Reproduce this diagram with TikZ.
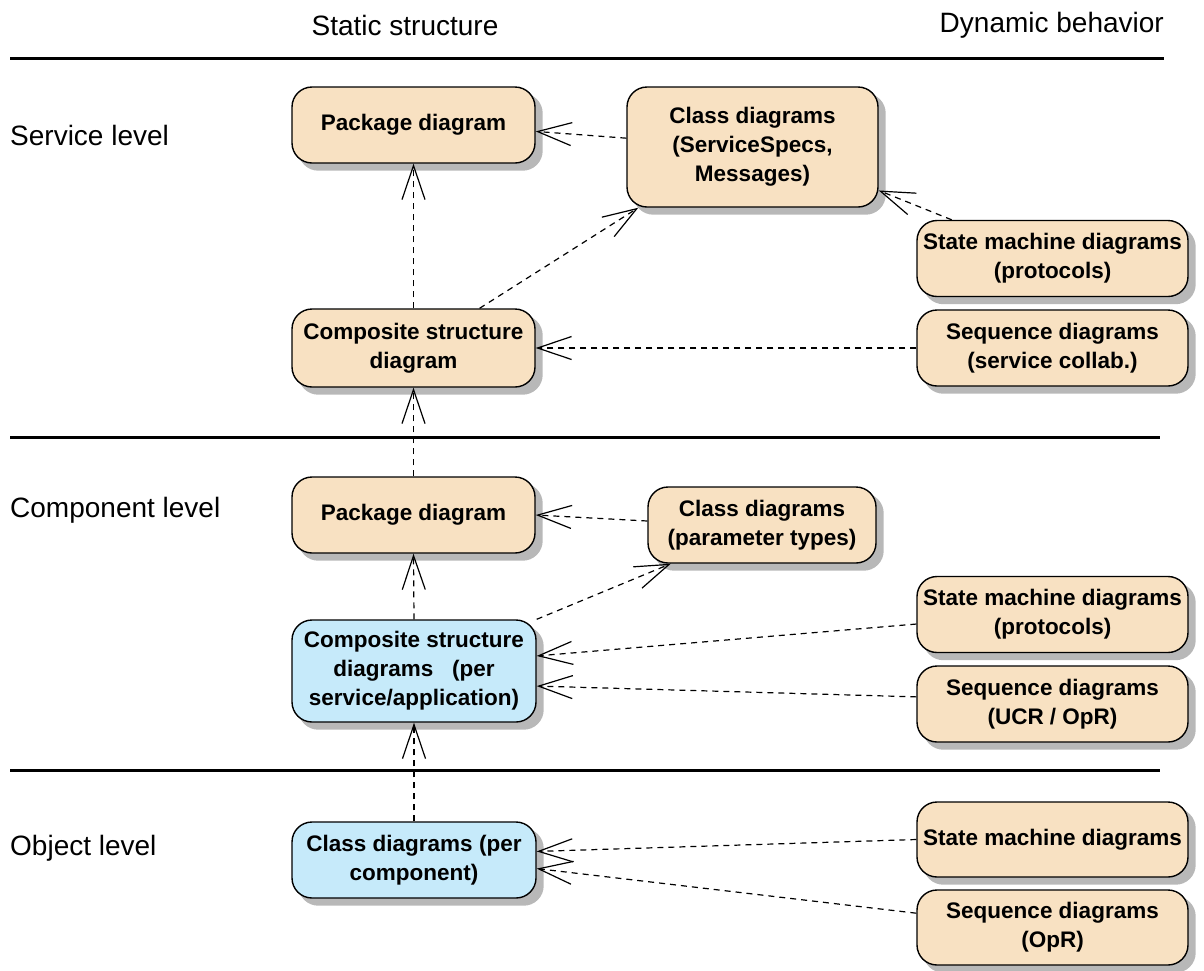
\documentclass[tikz,border=0pt]{standalone}
\usepackage{fontspec}
\setmainfont{Liberation Sans}
\usepackage{xcolor}
\usepackage{tikz}
\usetikzlibrary{arrows.meta,backgrounds,calc}

\definecolor{boxtan}{HTML}{F8E1C2}
\definecolor{boxblue}{HTML}{C6EAFA}
\definecolor{boxshade}{HTML}{B8B8B8}

\begin{document}
\begin{tikzpicture}[x=1pt,y=-1pt,
  diag/.style={draw=black, line width=1.4pt, rounded corners=20pt, fill=boxtan,
    align=center, inner sep=0pt, minimum height=76pt,
    font=\fontsize{22.5}{29}\selectfont\bfseries},
  inst/.style={diag, fill=boxblue},
  head/.style={font=\fontsize{28}{32}\selectfont, inner sep=0pt},
  dep/.style={line width=1.2pt, dash pattern=on 6pt off 5pt,
    -{Straight Barb[length=34pt,width=23pt,line width=1.2pt]}}]
\useasboundingbox (0,0) rectangle (1204,970);

\node[head] (hstatic) at (405,25) {Static structure};
\node[head, anchor=east] (hdynamic) at (1164,25) {Dynamic behavior};
\node[head, anchor=west] (lservice) at (10,135) {Service level};
\node[head, anchor=west] (lcomponent) at (10,510) {Component level};
\node[head, anchor=west] (lobject) at (10,848) {Object level};

\draw[line width=3pt] (10,58) -- (1164,58);
\draw[line width=3pt] (10,437) -- (1160,437);
\draw[line width=3pt] (10,770) -- (1160,770);

\node[diag, minimum width=243pt] (psvc) at (413.5,125) {Package diagram};
\node[diag, minimum width=251pt, minimum height=120pt] (csvc) at (752.5,147) {Class diagrams\\(ServiceSpecs,\\Messages)};
\node[diag, minimum width=271pt] (ssvc) at (1052.5,258.5) {State machine diagrams\\(protocols)};
\node[diag, minimum width=271pt] (qsvc) at (1052.5,348) {Sequence diagrams\\(service collab.)};
\node[diag, minimum width=243pt, minimum height=78pt] (compsvc) at (413.5,348) {Composite structure\\diagram};

\node[diag, minimum width=243pt] (pcomp) at (413.5,515) {Package diagram};
\node[diag, minimum width=228pt] (cparam) at (762,525) {Class diagrams\\(parameter types)};
\node[diag, minimum width=271pt] (scomp) at (1052.5,614.5) {State machine diagrams\\(protocols)};
\node[diag, minimum width=271pt] (qucr) at (1052.5,704) {Sequence diagrams\\(UCR / OpR)};
\node[inst, minimum width=244pt, minimum height=102pt] (bcomp) at (414,671) {Composite structure\\diagrams~~~(per\\service/application)};

\node[inst, minimum width=244pt] (cobj) at (414,860) {Class diagrams (per\\component)};
\node[diag, minimum width=271pt, minimum height=75pt] (sobj) at (1052.5,839.5) {State machine diagrams};
\node[diag, minimum width=271pt, minimum height=75pt] (qopr) at (1052.5,927.5) {Sequence diagrams\\(OpR)};

\begin{scope}[on background layer]
\foreach \n in {psvc,csvc,ssvc,qsvc,compsvc,pcomp,cparam,scomp,qucr,bcomp,cobj,sobj,qopr}
  \fill[boxshade, rounded corners=20pt] ($(\n.north west)+(7,7)$) rectangle ($(\n.south east)+(7,7)$);
\end{scope}

\draw[dep] (csvc.176) -- (psvc.-3);
\draw[dep] (compsvc.north) -- (psvc.south);
\draw[dep] (compsvc.31) -- (csvc.208);
\draw[dep] (ssvc.159) -- (csvc.-19);
\draw[dep] (qsvc.west) -- (compsvc.east);
\draw[dep] (pcomp.north) -- (compsvc.south);
\draw[dep] (cparam.178) -- (pcomp.east);
\draw[dep] (bcomp.north) -- (pcomp.south);
\draw[dep] (bcomp.north east) -- (cparam.203);
\draw[dep] (scomp.184) -- (bcomp.7);
\draw[dep] (qucr.177) -- (bcomp.-7);
\draw[dep] (cobj.north) -- (bcomp.south);
\draw[dep] (sobj.west) -- (cobj.4);
\draw[dep] (qopr.174) -- (cobj.-4);
\end{tikzpicture}
\end{document}
